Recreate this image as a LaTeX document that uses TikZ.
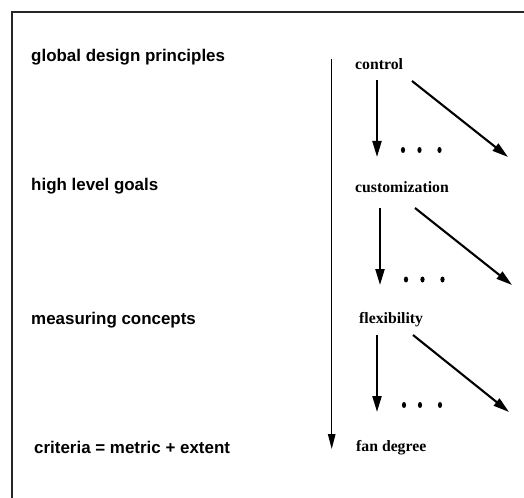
\documentclass[tikz,border=0pt]{standalone}
\usepackage{fontspec}
\setmainfont{Liberation Serif}
\setsansfont{Liberation Sans}
\usetikzlibrary{arrows.meta}
\begin{document}
\begin{tikzpicture}[x=1bp,y=-1bp,
  level/.style={font=\sffamily\bfseries\fontsize{17}{19}\selectfont, anchor=base west, inner sep=0pt},
  item/.style={font=\rmfamily\bfseries\fontsize{15.8}{18}\selectfont, anchor=base west, inner sep=0pt},
  fat/.style={line width=2.1bp, -{Triangle[length=16bp,width=9bp]}},
  axis/.style={line width=1.1bp, -{Triangle[length=15bp,width=7.5bp]}},
  dot/.style={fill=black, draw=none}
]
\useasboundingbox (0,0) rectangle (524,498);
\draw[line width=1.2bp, black!85] (12,498) -- (12,12) -- (524,12);

\node[level] (l1) at (31,62) {global design principles};
\node[level] (l2) at (31,191) {high level goals};
\node[level] (l3) at (31,324) {measuring concepts};
\node[level] (l4) at (34,453) {criteria = metric + extent};

\node[item] (c1) at (355,70) {control};
\node[item] (c2) at (355,193) {customization};
\node[item] (c3) at (359,323) {flexibility};
\node[item] (c4) at (356,451) {fan degree};

\coordinate (axs) at (331.7,59);
\coordinate (axe) at (331.7,449);
\draw[axis] (axs) -- (axe);

% control
\coordinate (a1s) at (377,80);  \coordinate (a1e) at (377,157);
\coordinate (d1s) at (412,81);  \coordinate (d1e) at (508,157);
% customization
\coordinate (a2s) at (380,208); \coordinate (a2e) at (380,285);
\coordinate (d2s) at (415,208); \coordinate (d2e) at (512,285);
% flexibility
\coordinate (a3s) at (377,335); \coordinate (a3e) at (377,412);
\coordinate (d3s) at (413,335); \coordinate (d3e) at (509,412);

\draw[fat] (a1s) -- (a1e);
\draw[fat] (d1s) -- (d1e);
\draw[fat] (a2s) -- (a2e);
\draw[fat] (d2s) -- (d2e);
\draw[fat] (a3s) -- (a3e);
\draw[fat] (d3s) -- (d3e);

\foreach \x/\y in {403/150,419.5/150,439.5/150, 406/279.5,422.5/279.5,442.5/279.5, 404/405,420/405,440/405}
  \fill[dot] (\x,\y) ellipse [x radius=2.1bp, y radius=3bp];
\end{tikzpicture}
\end{document}
